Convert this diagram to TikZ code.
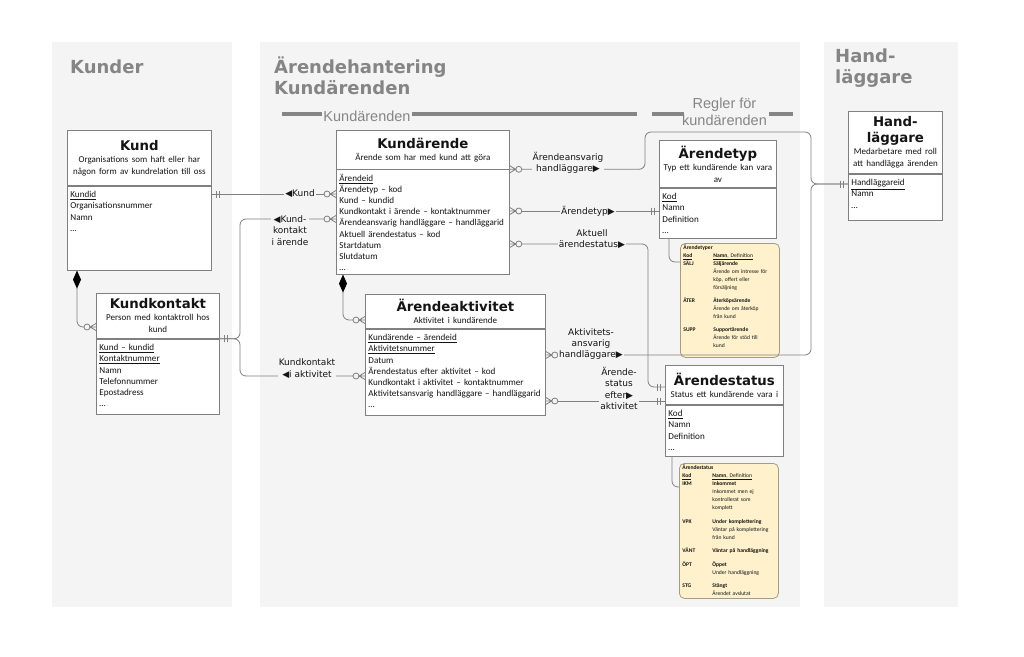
\documentclass[tikz,border=0pt]{standalone}
\usepackage{fontspec}
\setmainfont{Carlito}
\newfontfamily\verdfont{DejaVu Sans}
\newfontfamily\arialfont{Liberation Sans}
\usetikzlibrary{arrows.meta}

\definecolor{panelbg}{HTML}{F4F4F4}
\definecolor{paneltxt}{HTML}{858585}
\definecolor{linegray}{HTML}{808080}
\definecolor{notebg}{HTML}{FEF1CB}
\definecolor{noteline}{HTML}{A39C87}
\definecolor{txt}{HTML}{141414}

% fonts of the boxes and labels
\newcommand{\ttlfont}{\verdfont\bfseries\fontsize{13.3}{15.5}\selectfont}
\newcommand{\subfont}{\fontsize{9}{12}\selectfont}
\newcommand{\attrfont}{\fontsize{9.1}{11.15}\selectfont}
\newcommand{\lblfont}{\verdfont\fontsize{9}{11.4}\selectfont}
\newcommand{\notefont}{\fontsize{5.6}{8}\selectfont}

% zero or many: ring and crow's foot
\pgfdeclarearrow{
  name = crowring,
  parameters = {},
  setup code = {
    \pgfarrowssettipend{0pt}
    \pgfarrowssetlineend{-12pt}
    \pgfarrowssetvisualbackend{-12pt}
    \pgfarrowssetbackend{-12pt}
    \pgfarrowshullpoint{0pt}{4pt}
    \pgfarrowshullpoint{0pt}{-4pt}
    \pgfarrowshullpoint{-12pt}{3pt}
    \pgfarrowshullpoint{-12pt}{-3pt}
  },
  drawing code = {
    \pgfsetcornersarced{\pgfpointorigin}
    \pgfpathmoveto{\pgfpoint{0pt}{3.5pt}}
    \pgfpathlineto{\pgfpoint{-6pt}{0pt}}
    \pgfpathlineto{\pgfpoint{0pt}{-3.5pt}}
    \pgfpathmoveto{\pgfpoint{-6pt}{0pt}}
    \pgfpathlineto{\pgfpoint{0pt}{0pt}}
    \pgfpathcircle{\pgfpoint{-9pt}{0pt}}{3pt}
    \pgfusepathqstroke
  },
}
% exactly one: two bars
\pgfdeclarearrow{
  name = onlyone,
  parameters = {},
  setup code = {
    \pgfarrowssettipend{0pt}
    \pgfarrowssetlineend{0pt}
    \pgfarrowssetvisualbackend{-8pt}
    \pgfarrowssetbackend{-8pt}
    \pgfarrowshullpoint{0pt}{3.5pt}
    \pgfarrowshullpoint{0pt}{-3.5pt}
    \pgfarrowshullpoint{-8pt}{3.5pt}
    \pgfarrowshullpoint{-8pt}{-3.5pt}
  },
  drawing code = {
    \pgfsetcornersarced{\pgfpointorigin}
    \pgfpathmoveto{\pgfpoint{-5pt}{3.5pt}}
    \pgfpathlineto{\pgfpoint{-5pt}{-3.5pt}}
    \pgfpathmoveto{\pgfpoint{-8pt}{3.5pt}}
    \pgfpathlineto{\pgfpoint{-8pt}{-3.5pt}}
    \pgfusepathqstroke
  },
}

\begin{document}
\begin{tikzpicture}[x=1pt, y=-1pt,
  paneltitle/.style={anchor=base west, inner sep=0pt, align=left, text=paneltxt,
    font=\verdfont\bfseries\fontsize{18}{21}\selectfont},
  bartitle/.style={anchor=base, inner sep=0pt, align=center, text=paneltxt,
    font=\arialfont\fontsize{14.5}{17}\selectfont},
  bar/.style={draw=paneltxt, line width=4pt},
  hdr/.style={draw=linegray, fill=white, line width=0.8pt, anchor=north west,
    align=center, inner xsep=2pt, inner ysep=0pt, text=txt},
  attrs/.style={draw=linegray, fill=white, line width=0.8pt, anchor=north west,
    align=left, inner xsep=3pt, inner ysep=3pt, text height=8.6pt, font=\attrfont, text=txt},
  note/.style={draw=noteline, fill=notebg, line width=0.8pt, rounded corners=5pt,
    anchor=north west, inner xsep=3pt, inner ysep=0.5pt, text width=93pt,
    text height=5.6pt, font=\notefont, text=txt},
  conn/.style={draw=linegray, line width=0.8pt, rounded corners=6pt},
  onemany/.style={arrows={onlyone-crowring}},
  compmany/.style={arrows={Diamond[length=18pt, width=8pt, color=black, fill=black]-crowring}},
  lbl/.style={anchor=base, fill=panelbg, inner sep=1pt, align=center, font=\lblfont, text=txt},
]

  \fill[white] (0,0) rectangle (1024,656);
  \useasboundingbox (0,0) rectangle (1024,656);

  % -- Panels --
  \fill[panelbg] (52,42) rectangle (232,607);
  \fill[panelbg] (260,42) rectangle (800,607);
  \fill[panelbg] (824,42) rectangle (958,607);
  \node[paneltitle] (tKunder) at (70,73) {Kunder};
  \node[paneltitle] (tArende) at (274,94) {Ärendehantering\\Kundärenden};
  \node[paneltitle] (tHand) at (835,83) {Hand-\\läggare};

  % -- Section bars --
  \node[bartitle] (bKar) at (367,121.5) {Kundärenden};
  \node[bartitle] (bRegler) at (724.5,125) {Regler för\\kundärenden};
  \draw[bar] (282,114) -- (322,114);
  \draw[bar] (412,114) -- (637,114);
  \draw[bar] (652,114) -- (684,114);
  \draw[bar] (769,114) -- (793,114);

  % -- Kund --
  \node[hdr, text width=140pt, minimum height=55pt] (kundH) at (67,130)
    {{\ttlfont Kund\par}\subfont Organisations som haft eller har\\någon form av kundrelation till oss};
  \node[attrs, text width=138pt, text depth=69.4pt] (kundA) at (kundH.south west)
    {\underline{Kundid}\\Organisationsnummer\\Namn\\…};

  % -- Kundkontakt --
  \node[hdr, text width=119pt, minimum height=45pt] (kkH) at (96,293)
    {{\ttlfont Kundkontakt\par}\subfont Person med kontaktroll hos\\kund};
  \node[attrs, text width=117pt, text depth=60.4pt] (kkA) at (kkH.south west)
    {\underline{Kund – kundid}\\\underline{Kontaktnummer}\\Namn\\Telefonnummer\\Epostadress\\…};

  % -- Kundärende --
  \node[hdr, text width=169pt, minimum height=38.5pt] (karH) at (336,130)
    {{\ttlfont Kundärende\par}\subfont Ärende som har med kund att göra};
  \node[attrs, text width=167pt, text depth=89.9pt] (karA) at (karH.south west)
    {\underline{Ärendeid}\\Ärendetyp – kod\\Kund – kundid\\Kundkontakt i ärende – kontaktnummer\\
     Ärendeansvarig handläggare – handläggarid\\Aktuell ärendestatus – kod\\Startdatum\\Slutdatum\\…};

  % -- Ärendeaktivitet --
  \node[hdr, text width=176pt, minimum height=34pt] (akH) at (365,294)
    {{\ttlfont Ärendeaktivitet\par}\subfont Aktivitet i kundärende};
  \node[attrs, text width=174pt, text depth=71.4pt] (akA) at (akH.south west)
    {\underline{Kundärende – ärendeid}\\\underline{Aktivitetsnummer}\\Datum\\Ärendestatus efter aktivitet – kod\\
     Kundkontakt i aktivitet – kontaktnummer\\Aktivitetsansvarig handläggare – handläggarid\\…};

  % -- Ärendetyp --
  \node[hdr, text width=113pt, minimum height=47pt] (atH) at (659,140)
    {{\ttlfont Ärendetyp\par}\subfont Typ ett kundärende kan vara\\av};
  \node[attrs, text width=111pt, text depth=35.4pt] (atA) at (atH.south west)
    {\underline{Kod}\\Namn\\Definition\\…};

  % -- Ärendestatus --
  \node[hdr, text width=114pt, minimum height=39pt] (asH) at (665,365)
    {{\ttlfont Ärendestatus\par}\subfont Status ett kundärende vara i};
  \node[attrs, text width=112pt, text depth=36.4pt] (asA) at (asH.south west)
    {\underline{Kod}\\Namn\\Definition\\…};

  % -- Handläggare --
  \node[hdr, text width=90pt, minimum height=62pt] (hlH) at (848,111)
    {{\ttlfont Hand-\\läggare\par}\subfont Medarbetare med roll\\att handlägga ärenden};
  \node[attrs, text width=88pt, text depth=31.4pt] (hlA) at (hlH.south west)
    {\underline{Handläggareid}\\Namn\\…};

  % -- Notes with values --
  \node[note, text depth=107.4pt] (ntyp) at (680,243) {%
    \begin{tabular}[t]{@{}p{30pt}@{}l@{}}
      \multicolumn{2}{@{}l@{}}{\textbf{Ärendetyper}}\\
      \textbf{\underline{Kod}} & \underline{\textbf{Namn}, Definition}\\
      \textbf{SÄLJ} & \textbf{Säljärende}\\
       & Ärende om intresse för\\
       & köp, offert eller\\
       & försäljning\\[5pt]
      \textbf{ÅTER} & \textbf{Återköpsärende}\\
       & Ärende om återköp\\
       & från kund\\[5pt]
      \textbf{SUPP} & \textbf{Supportärende}\\
       & Ärende för stöd till\\
       & kund
    \end{tabular}};
  \node[note, text depth=128.4pt] (nst) at (679,463) {%
    \begin{tabular}[t]{@{}p{30pt}@{}l@{}}
      \multicolumn{2}{@{}l@{}}{\textbf{Ärendestatus}}\\
      \textbf{\underline{Kod}} & \underline{\textbf{Namn}, Definition}\\
      \textbf{IKM} & \textbf{Inkommet}\\
       & Inkommet men ej\\
       & kontrollerat som\\
       & komplett\\[5.5pt]
      \textbf{VPK} & \textbf{Under komplettering}\\
       & Väntar på komplettering\\
       & från kund\\[5.5pt]
      \textbf{VÄNT} & \textbf{Väntar på handläggning}\\[5.5pt]
      \textbf{ÖPT} & \textbf{Öppet}\\
       & Under handläggning\\[5.5pt]
      \textbf{STG} & \textbf{Stängt}\\
       & Ärendet avslutat
    \end{tabular}};

  % -- Connector rows --
  \coordinate (yKund) at (0,194);
  \coordinate (yKkA) at (0,219);
  \coordinate (yKkB) at (0,376);
  \coordinate (xKk) at (240,0);
  \coordinate (dKund) at (77,327);
  \coordinate (dAkt) at (343,320);
  \coordinate (jHand) at (811,184);
  \coordinate (tAnsv) at (645,132);
  \coordinate (yAkt) at (0,355);
  \coordinate (yTyp) at (0,211);
  \coordinate (vStat) at (648,387);
  \coordinate (yAktu) at (0,244);
  \coordinate (yEfter) at (0,401);
  \coordinate (nTyp) at (669,262);
  \coordinate (nSt) at (672,487);

  % -- Connectors --
  \draw[conn, onemany] (kundA.east |- yKund) -- (karA.west |- yKund);
  \draw[conn, onemany] (kkA.north east) -| (xKk |- yKkA) -- (karA.west |- yKkA);
  \draw[conn, onemany] (kkA.north east) -| (xKk |- yKkB) -- (akA.west |- yKkB);
  \draw[conn, compmany] (kundA.south -| dKund) |- (kkH.west |- dKund);
  \draw[conn, compmany] (karA.south -| dAkt) |- (akH.west |- dAkt);
  \draw[conn, onemany] (hlA.west |- jHand) -| (jHand |- tAnsv) -| (tAnsv |- karH.south east) -- (karH.south east);
  \draw[conn, onemany] (hlA.west |- jHand) -| (jHand |- yAkt) -- (akA.east |- yAkt);
  \draw[conn, onemany] (atA.west |- yTyp) -- (karA.east |- yTyp);
  \draw[conn, onemany] (asH.west |- vStat) -| (vStat |- yAktu) -- (karA.east |- yAktu);
  \draw[conn, onemany] (asH.west |- yEfter) -- (akA.east |- yEfter);
  \draw[conn] (atA.south -| nTyp) |- (ntyp.west |- nTyp);
  \draw[conn] (asA.south -| nSt) |- (nst.west |- nSt);

  % -- Connector labels (base = last line) --
  \node[lbl] (lKund) at (300,196.5) {◀Kund};
  \node[lbl] (lKkA) at (290,245.3) {◀Kund-\\kontakt\\i ärende};
  \node[lbl] (lKkB) at (307,377.2) {Kundkontakt\\◀i aktivitet};
  \node[lbl] (lAnsv) at (568,171.9) {Ärendeansvarig\\handläggare▶};
  \node[lbl] (lTyp) at (588,214.5) {Ärendetyp▶};
  \node[lbl] (lAktu) at (592,247.4) {Aktuell\\ärendestatus▶};
  \node[lbl] (lAkt) at (591,357.8) {Aktivitets-\\ansvarig\\handläggare▶};
  \node[lbl] (lEfter) at (619,409.7) {Ärende-\\status\\efter▶\\aktivitet};

\end{tikzpicture}
\end{document}
